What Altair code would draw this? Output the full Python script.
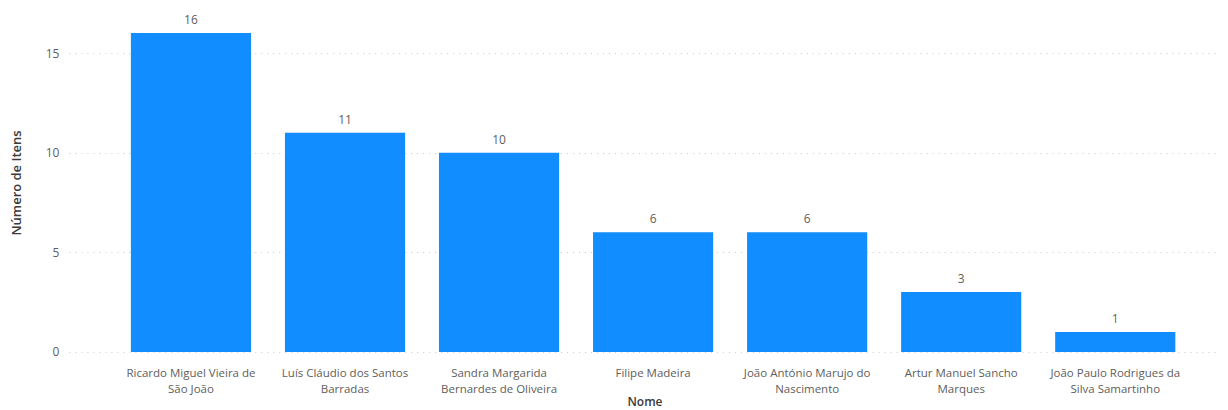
import altair as alt
import pandas as pd

names = [
    "Ricardo Miguel Vieira de\nSão João",
    "Luís Cláudio dos Santos\nBarradas",
    "Sandra Margarida\nBernardes de Oliveira",
    "Filipe Madeira",
    "João António Marujo do\nNascimento",
    "Artur Manuel Sancho\nMarques",
    "João Paulo Rodrigues da\nSilva Samartinho",
]
values = [16, 11, 10, 6, 6, 3, 1]
y_ticks = [0, 5, 10, 15]

df = pd.DataFrame({"Nome": names, "Itens": values})

FONT = "Open Sans"
x = alt.X(
    "Nome:N",
    sort=names,
    title="Nome",
    scale=alt.Scale(paddingInner=0.22, paddingOuter=0.346, align=0.581),
    axis=alt.Axis(
        labelExpr="split(datum.label, '\\n')",
        labelAngle=0,
        labelFont=FONT,
        labelFontSize=11.5,
        labelColor="#605E5C",
        labelPadding=16,
        labelLineHeight=16,
        labelLimit=300,
        ticks=False,
        domain=False,
        grid=False,
        titleFont=FONT,
        titleFontSize=12,
        titleFontWeight=600,
        titleColor="#3B3A39",
        titlePadding=1,
    ),
)
y = alt.Y(
    "Itens:Q",
    title="Número de Itens",
    scale=alt.Scale(domain=[0, 17], nice=False),
    axis=alt.Axis(
        values=y_ticks,
        labelFont=FONT,
        labelFontSize=12,
        labelColor="#605E5C",
        labelPadding=10,
        ticks=False,
        domain=False,
        grid=True,
        gridColor="#C8C6C4",
        gridDash=[1, 5],
        gridWidth=1,
        titleFont=FONT,
        titleFontSize=13,
        titleFontWeight=600,
        titleColor="#3B3A39",
        titlePadding=22,
    ),
)

bars = alt.Chart(df).mark_bar(color="#118DFF").encode(x=x, y=y)
labels = alt.Chart(df).mark_text(
    dy=-13, font=FONT, fontSize=12, color="#605E5C"
).encode(x=alt.X("Nome:N", sort=names), y="Itens:Q", text="Itens:Q")

chart = (
    alt.layer(bars, labels)
    .properties(
        width=1152,
        height=339,
        padding={"left": 2, "top": 5, "right": 0, "bottom": 0},
        view=alt.ViewBackground(stroke="transparent", strokeWidth=0),
    )
    .configure_view(strokeWidth=0, stroke="transparent")
    .configure(background="white")
)

chart.save("out.html", embed_options={"renderer": "svg", "actions": False})
